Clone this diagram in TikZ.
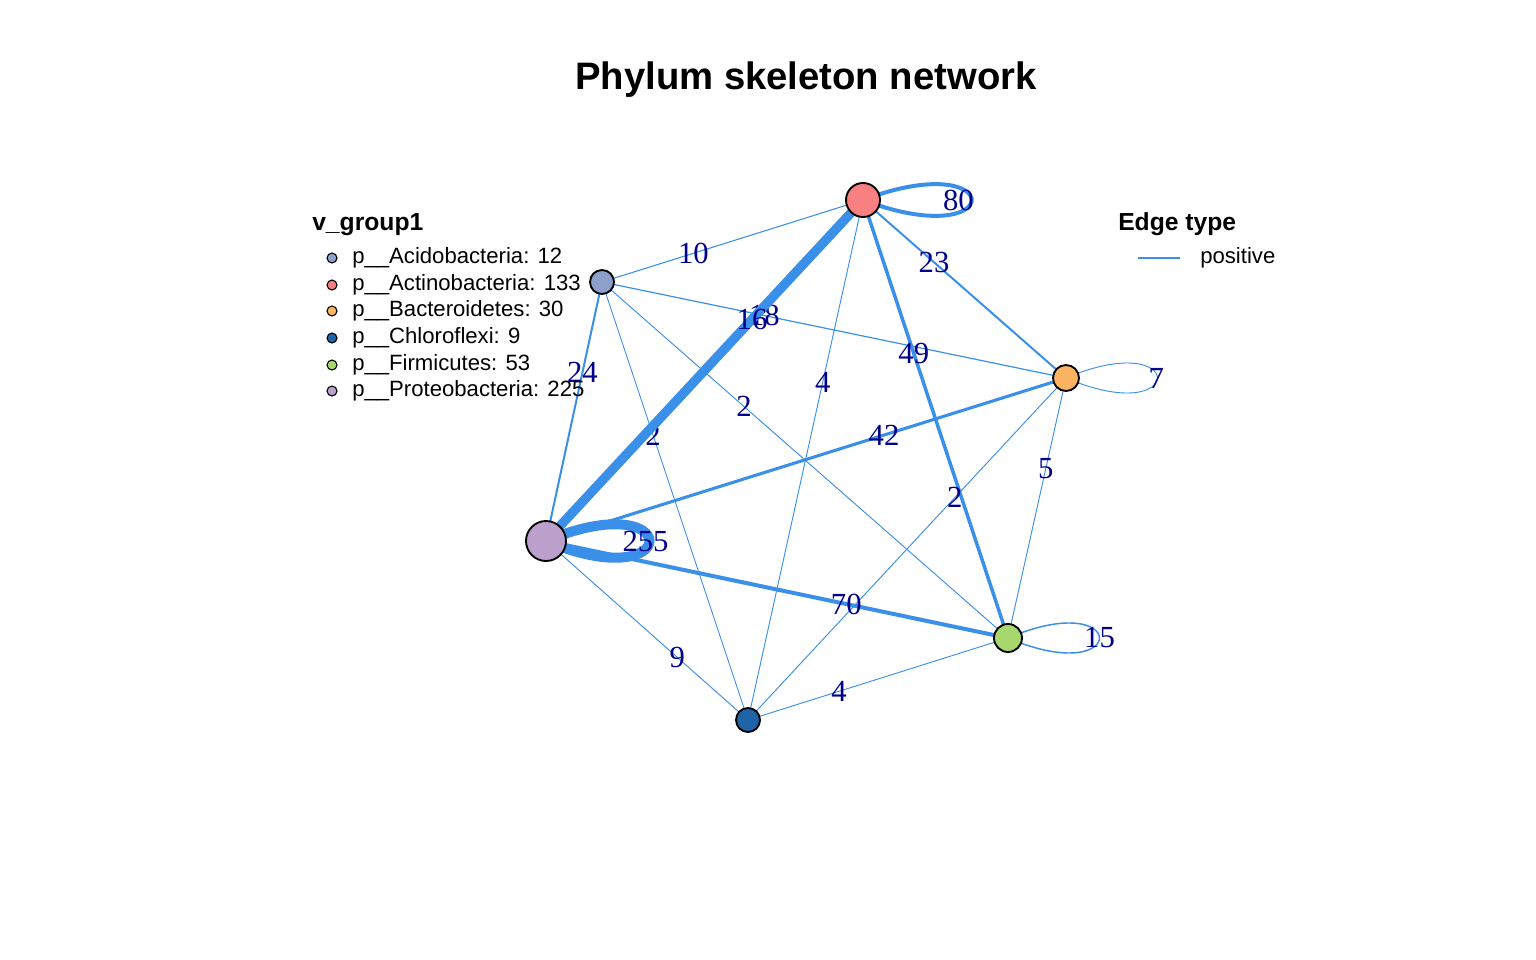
\documentclass[tikz,border=0pt]{standalone}
\usepackage{fontspec}
\setmainfont{Liberation Serif}
\setsansfont{Liberation Sans}
\usetikzlibrary{backgrounds}

\definecolor{edgeblue}{RGB}{58,143,233}
\definecolor{labelnavy}{RGB}{0,0,139}
\definecolor{acicol}{RGB}{141,160,203}
\definecolor{actcol}{RGB}{248,128,128}
\definecolor{baccol}{RGB}{253,180,98}
\definecolor{chlcol}{RGB}{31,100,166}
\definecolor{fircol}{RGB}{166,216,110}
\definecolor{procol}{RGB}{188,160,204}

\tikzset{
  vert/.style={circle, draw=black, line width=1.4pt, inner sep=0pt},
  link/.style={draw=edgeblue, line width=0.7pt},
  wlabel/.style={text=labelnavy, font=\fontsize{23}{23}\selectfont, inner sep=0pt},
  legdot/.style={circle, draw=black, line width=0.8pt, inner sep=0pt, minimum size=7.5pt},
  legtext/.style={font=\sffamily\fontsize{16.6}{18}\selectfont, anchor=west, inner sep=0pt},
  legtitle/.style={font=\sffamily\bfseries\fontsize{18.5}{20}\selectfont, anchor=west, inner sep=0pt},
}

\begin{document}
\begin{tikzpicture}[x=0.75pt, y=-0.75pt]
\useasboundingbox (0,0) rectangle (1536,960);

% title
\node[font=\sffamily\bfseries\fontsize{28.7}{30}\selectfont] (title) at (806,80) {Phylum skeleton network};

% vertices
\node[vert, fill=acicol, minimum size=18pt] (aci) at (602,282) {};
\node[vert, fill=actcol, minimum size=25.5pt] (act) at (863,200) {};
\node[vert, fill=baccol, minimum size=19.5pt] (bac) at (1066,378) {};
\node[vert, fill=chlcol, minimum size=18pt] (chl) at (748,720) {};
\node[vert, fill=fircol, minimum size=21pt] (fir) at (1008,638) {};
\node[vert, fill=procol, minimum size=30pt] (pro) at (546,541) {};

\begin{scope}[on background layer]
% edges between groups
\draw[link, line width=0.8pt] (aci.center) -- node[wlabel, pos=0.35]{10} (act.center);
\draw[link, line width=1.5pt] (aci.center) -- node[wlabel, pos=0.35]{24} (pro.center);
\draw[link, line width=0.9pt] (aci.center) -- node[wlabel, pos=0.35]{18} (bac.center);
\draw[link] (aci.center) -- node[wlabel, pos=0.35]{2} (chl.center);
\draw[link] (aci.center) -- node[wlabel, pos=0.35]{2} (fir.center);

\draw[link, line width=7pt] (act.center) -- node[wlabel, pos=0.35]{16} (pro.center);
\draw[link] (act.center) -- node[wlabel, pos=0.35]{4} (chl.center);
\draw[link, line width=2.6pt] (act.center) -- node[wlabel, pos=0.35]{49} (fir.center);
\draw[link, line width=1.5pt] (act.center) -- node[wlabel, pos=0.35]{23} (bac.center);

\draw[link, line width=2.3pt] (bac.center) -- node[wlabel, pos=0.35]{42} (pro.center);
\draw[link] (bac.center) -- node[wlabel, pos=0.35]{2} (chl.center);
\draw[link] (bac.center) -- node[wlabel, pos=0.35]{5} (fir.center);

\draw[link, line width=3pt] (fir.center) -- node[wlabel, pos=0.35]{70} (pro.center);
\draw[link] (chl.center) -- node[wlabel, pos=0.35]{9} (pro.center);
\draw[link] (chl.center) -- node[wlabel, pos=0.35]{4} (fir.center);

% self loops
\draw[link, line width=3pt] (act.center) .. controls +(145,-55) and +(145,55) .. node[wlabel, pos=0.5, xshift=-10pt]{80} (act.center);
\draw[link] (bac.center) .. controls +(122,-52) and +(122,52) .. node[wlabel, pos=0.5, xshift=-1pt]{7} (bac.center);
\draw[link, line width=1.1pt] (fir.center) .. controls +(122,-52) and +(122,52) .. node[wlabel, pos=0.5]{15} (fir.center);
\draw[link, line width=7.5pt] (pro.center) .. controls +(138,-58) and +(138,58) .. node[wlabel, pos=0.5, xshift=-3pt]{255} (pro.center);
\end{scope}

% group legend
\node[legtitle] (gtitle) at (312,225) {v\_group1};
\node[legdot, fill=acicol] (ga) at (332,258) {};
\node[legtext] at (352,258) {p\_\_Acidobacteria: 12};
\node[legdot, fill=actcol] (gb) at (332,285) {};
\node[legtext] at (352,285) {p\_\_Actinobacteria: 133};
\node[legdot, fill=baccol] (gc) at (332,311) {};
\node[legtext] at (352,311) {p\_\_Bacteroidetes: 30};
\node[legdot, fill=chlcol] (gd) at (332,338) {};
\node[legtext] at (352,338) {p\_\_Chloroflexi: 9};
\node[legdot, fill=fircol] (ge) at (332,365) {};
\node[legtext] at (352,365) {p\_\_Firmicutes: 53};
\node[legdot, fill=procol] (gf) at (332,391) {};
\node[legtext] at (352,391) {p\_\_Proteobacteria: 225};

% edge legend
\node[legtitle] (etitle) at (1118,224) {Edge type};
\coordinate (ea) at (1138,258);
\coordinate (eb) at (1180,258);
\draw[link, line width=1.1pt] (ea) -- (eb);
\node[legtext] (epos) at (1200,258) {positive};

\end{tikzpicture}
\end{document}
